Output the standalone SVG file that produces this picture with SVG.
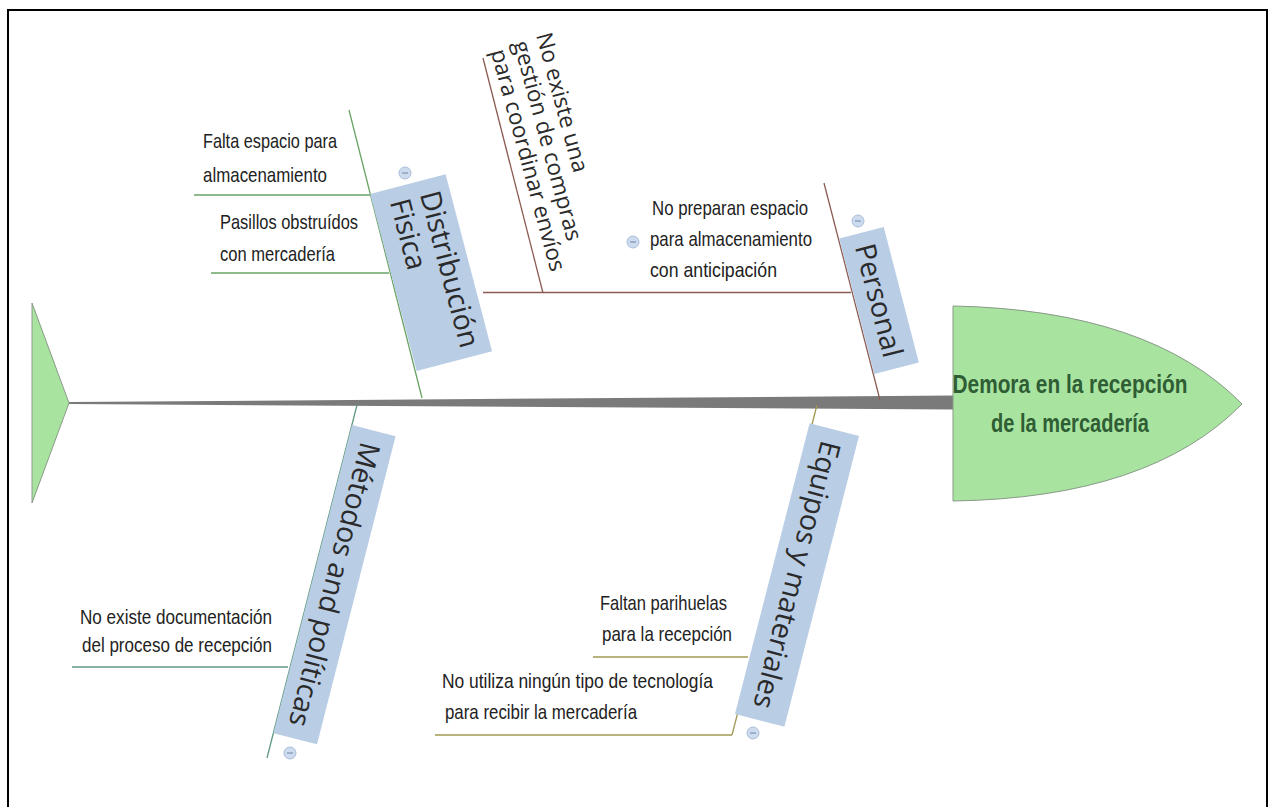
<svg xmlns="http://www.w3.org/2000/svg" width="1275" height="807" viewBox="0 0 1275 807">
<style>
.lbl{font-family:"Liberation Sans","Arial",sans-serif;font-size:21px;fill:#222}
.cat{font-family:"Open Sans","Liberation Sans",sans-serif;font-size:28.5px;fill:#2a2a2a}
.box{fill:#b9cde5}
.g{stroke:#6aa364;stroke-width:1.3;fill:none}
.r{stroke:#8c5c54;stroke-width:1.3;fill:none}
.t{stroke:#5f9a80;stroke-width:1.3;fill:none}
.o{stroke:#a09850;stroke-width:1.3;fill:none}
.mc{fill:#cddbee;stroke:#a9bdd9;stroke-width:1}
.mm{stroke:#6f86a8;stroke-width:1}
.hd{font-family:"Liberation Sans",Arial,sans-serif;font-size:25px;font-weight:bold;fill:#2f5d34}
</style>
<rect x="0" y="0" width="1275" height="807" fill="#ffffff"/>
<path d="M8,807 V10 H1267 V807" fill="none" stroke="#000" stroke-width="2"/>

<g id="connectors">
  <polygon points="69,402 953,395.5 953,409.5 69,404" fill="#7a7a7a"/>
  <line class="g" x1="349" y1="110" x2="422" y2="398"/>
  <line class="g" x1="194" y1="195" x2="370" y2="195"/>
  <line class="g" x1="211" y1="273" x2="389" y2="273"/>
  <line class="r" x1="824" y1="183" x2="880" y2="400"/>
  <line class="r" x1="483" y1="292.5" x2="851" y2="292.5"/>
  <line class="r" x1="483" y1="58" x2="543" y2="293"/>
  <line class="t" x1="357" y1="405" x2="267" y2="758"/>
  <line class="t" x1="72" y1="667" x2="288" y2="667"/>
  <line class="o" x1="817" y1="405" x2="732" y2="735"/>
  <line class="o" x1="593" y1="657" x2="748" y2="657"/>
  <line class="o" x1="435" y1="735" x2="732" y2="735"/>
</g>

<g id="tail">
  <polygon points="32,303 69,403 32,503" fill="#a8e4a0" stroke="#8a9a88" stroke-width="1"/>
</g>

<g id="head">
  <path d="M953,306 Q1150,310 1242,404 Q1150,498 953,501 Z" fill="#a8e4a0" stroke="#889a88" stroke-width="1"/>
  <text class="hd" x="1070" y="393" text-anchor="middle" textLength="235" lengthAdjust="spacingAndGlyphs">Demora en la recepción</text>
  <text class="hd" x="1070" y="432" text-anchor="middle" textLength="158" lengthAdjust="spacingAndGlyphs">de la mercadería</text>
</g>

<g id="distribucion">
  <g transform="translate(431.1,272.6) rotate(75.3)">
    <rect class="box" x="-91.5" y="-39" width="183" height="78"/>
    <text class="cat" x="-79" y="-9">Distribución</text>
    <text class="cat" x="-79" y="22">Fisica</text>
  </g>
  <circle class="mc" cx="405" cy="173" r="6"/><line class="mm" x1="402" y1="173" x2="408" y2="173"/>
</g>
<g id="falta-espacio">
  <text class="lbl" x="203" y="148" textLength="134" lengthAdjust="spacingAndGlyphs">Falta espacio para</text>
  <text class="lbl" x="203" y="182" textLength="124" lengthAdjust="spacingAndGlyphs">almacenamiento</text>
</g>
<g id="pasillos">
  <text class="lbl" x="220" y="229" textLength="138" lengthAdjust="spacingAndGlyphs">Pasillos obstruídos</text>
  <text class="lbl" x="220" y="261" textLength="115" lengthAdjust="spacingAndGlyphs">con mercadería</text>
</g>

<g id="personal">
  <g transform="translate(879,300.5) rotate(75.5)">
    <rect class="box" x="-70" y="-23" width="140" height="46"/>
    <text class="cat" x="0" y="10" text-anchor="middle">Personal</text>
  </g>
  <circle class="mc" cx="858" cy="221" r="6"/><line class="mm" x1="855" y1="221" x2="861" y2="221"/>
</g>
<g id="no-preparan">
  <text class="lbl" x="652" y="215" textLength="156" lengthAdjust="spacingAndGlyphs">No preparan espacio</text>
  <text class="lbl" x="650" y="246" textLength="162" lengthAdjust="spacingAndGlyphs">para almacenamiento</text>
  <text class="lbl" x="650" y="277" textLength="127" lengthAdjust="spacingAndGlyphs">con anticipación</text>
  <circle class="mc" cx="633" cy="242" r="6"/><line class="mm" x1="630" y1="242" x2="636" y2="242"/>
</g>
<g id="no-existe-gestion">
  <g transform="translate(536,35) rotate(74.8)" style="font-family:'Open Sans','Liberation Sans',sans-serif;font-size:22.5px;fill:#2a2a2a">
    <text x="0" y="0">No existe una</text>
    <text x="2" y="24">gestión de compras</text>
    <text x="4" y="48">para coordinar envíos</text>
  </g>
</g>

<g id="metodos">
  <g transform="translate(334.5,584.7) rotate(104.3)">
    <rect class="box" x="-159" y="-22.5" width="318" height="45"/>
    <text class="cat" x="0" y="10" text-anchor="middle">Métodos and políticas</text>
  </g>
  <circle class="mc" cx="290" cy="753" r="6"/><line class="mm" x1="287" y1="753" x2="293" y2="753"/>
</g>
<g id="no-existe-doc">
  <text class="lbl" x="80" y="624" textLength="192" lengthAdjust="spacingAndGlyphs">No existe documentación</text>
  <text class="lbl" x="82" y="652" textLength="190" lengthAdjust="spacingAndGlyphs">del proceso de recepción</text>
</g>

<g id="equipos">
  <g transform="translate(797,575) rotate(104.4)">
    <rect class="box" x="-150" y="-25.5" width="300" height="51"/>
    <text class="cat" x="0" y="10" text-anchor="middle">Equipos y materiales</text>
  </g>
  <circle class="mc" cx="753" cy="733" r="6"/><line class="mm" x1="750" y1="733" x2="756" y2="733"/>
</g>
<g id="faltan-parihuelas">
  <text class="lbl" x="600" y="610" textLength="127" lengthAdjust="spacingAndGlyphs">Faltan parihuelas</text>
  <text class="lbl" x="602" y="641" textLength="130" lengthAdjust="spacingAndGlyphs">para la recepción</text>
</g>
<g id="no-utiliza">
  <text class="lbl" x="442" y="688" textLength="271" lengthAdjust="spacingAndGlyphs">No utiliza ningún tipo de tecnología</text>
  <text class="lbl" x="445" y="719" textLength="192" lengthAdjust="spacingAndGlyphs">para recibir la mercadería</text>
</g>
</svg>
